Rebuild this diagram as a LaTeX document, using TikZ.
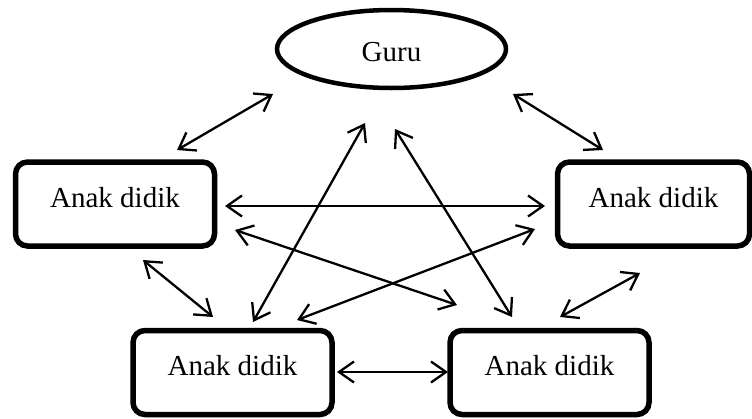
\documentclass[tikz,border=0pt]{standalone}
\usepackage{fontspec}
\setmainfont{Liberation Serif}
\usetikzlibrary{arrows.meta,shapes.geometric}
\tikzset{barbtip/.tip={Straight Barb[length=15pt,width=21pt]}}
\begin{document}
\begin{tikzpicture}[x=1pt,y=-1pt,
  lbl/.style={font=\fontsize{29}{34}\selectfont},
  box/.style={lbl, draw, line width=5.5pt, rounded corners=12pt,
    minimum width=199pt, minimum height=84pt, inner sep=0pt, text depth=14pt},
  oval/.style={lbl, draw, ellipse, line width=4.5pt,
    minimum width=229pt, minimum height=78pt, inner sep=0pt, text height=25.6pt},
  link/.style={line width=2.3pt, {barbtip}-{barbtip}}]
\useasboundingbox (0,0) rectangle (752,418);

% participants
\node[oval] (guru) at (391.5,49) {Guru};
\node[box] (kiri) at (115,204) {Anak didik};
\node[box, minimum width=192pt] (kanan) at (653.5,204) {Anak didik};
\node[box] (bkiri) at (232.5,372.5) {Anak didik};
\node[box] (bkanan) at (549.5,372.5) {Anak didik};

% arrow end points
\coordinate (kiri-g) at (177,150);
\coordinate (g-kiri) at (273,94);
\coordinate (g-kanan) at (513,94);
\coordinate (kanan-g) at (603,150);
\coordinate (kiri-kanan) at (225,206);
\coordinate (kanan-kiri) at (545,206);
\coordinate (kiri-bkiri) at (143,260);
\coordinate (bkiri-kiri) at (213,317);
\coordinate (bkanan-kanan) at (560,317);
\coordinate (kanan-bkanan) at (640,273);
\coordinate (bkiri-g) at (253,322);
\coordinate (g-bkiri) at (365,123);
\coordinate (bkanan-g) at (512,317);
\coordinate (g-bkanan) at (395,129);
\coordinate (kiri-bkanan) at (235,230);
\coordinate (bkanan-kiri) at (457,305);
\coordinate (bkiri-kanan) at (297,320);
\coordinate (kanan-bkiri) at (535,229);
\coordinate (bkiri-bkanan) at (337,372);
\coordinate (bkanan-bkiri) at (448,372);

% two-way interactions
\draw[link] (kiri-g) -- (g-kiri);
\draw[link] (g-kanan) -- (kanan-g);
\draw[link] (kiri-kanan) -- (kanan-kiri);
\draw[link] (kiri-bkiri) -- (bkiri-kiri);
\draw[link] (bkanan-kanan) -- (kanan-bkanan);
\draw[link] (bkiri-g) -- (g-bkiri);
\draw[link] (bkanan-g) -- (g-bkanan);
\draw[link] (kiri-bkanan) -- (bkanan-kiri);
\draw[link] (bkiri-kanan) -- (kanan-bkiri);
\draw[link] (bkiri-bkanan) -- (bkanan-bkiri);
\end{tikzpicture}
\end{document}
